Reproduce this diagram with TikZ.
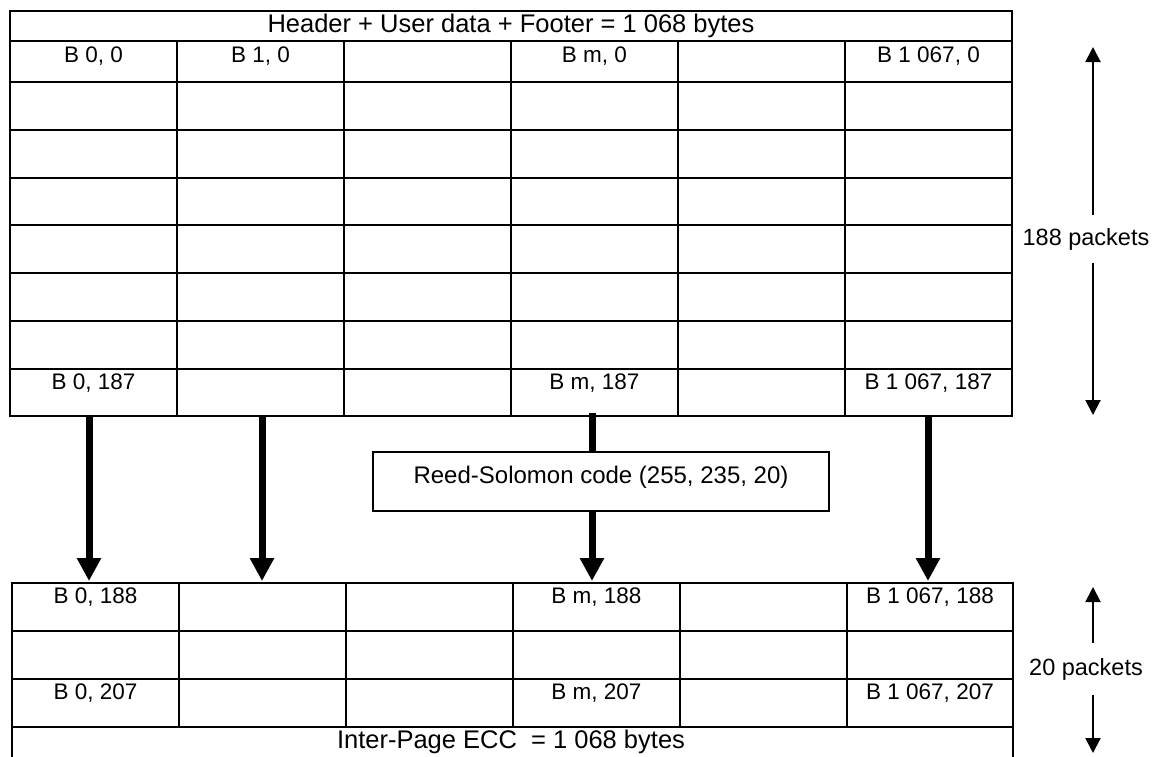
\documentclass[tikz,border=0pt]{standalone}
\usepackage{fontspec}
\setmainfont{Liberation Sans}
\usetikzlibrary{arrows.meta,positioning}

\begin{document}
\begin{tikzpicture}[x=1pt, y=-1pt,
  grid/.style={line width=2pt},
  lbl/.style={anchor=base, inner sep=0pt, font=\fontsize{22.5}{27}\selectfont},
  title/.style={anchor=base, inner sep=0pt, font=\fontsize{25.5}{30}\selectfont},
  side/.style={anchor=base, inner xsep=0pt, font=\fontsize{23.5}{28}\selectfont},
  rsbox/.style={draw, fill=white, line width=1.6pt, minimum width=456pt, minimum height=59pt,
    inner sep=0pt, text height=8pt, text depth=5pt, font=\fontsize{24}{29}\selectfont},
  bigarrow/.style={line width=7pt, -{Triangle[width=23pt, length=23pt]}},
  dimarrow/.style={line width=2pt, -{Triangle[width=15pt, length=15pt]}}]
  \useasboundingbox (0,0) rectangle (1167,756);
  % data block: 188 packets
  \draw[grid] (10,11) rectangle (1012,416.25);
  \draw[grid] (10,41) -- (1012,41);
  \foreach \y in {82,129.75,177.5,225.25,273,320.75,368.5}
    \draw[grid] (10,\y) -- (1012,\y);
  \foreach \x in {177,344,511,678,845}
    \draw[grid] (\x,41) -- (\x,416.25);
  \node[title] (hdr) at (511,32) {Header + User data + Footer = 1 068 bytes};
  \node[lbl] (b00) at (93.5,62) {B 0, 0};
  \node[lbl] (b10) at (260.5,62) {B 1, 0};
  \node[lbl] (bm0) at (594.5,62) {B m, 0};
  \node[lbl] (bl0) at (928.5,62) {B 1 067, 0};
  \node[lbl] (b0l) at (93.5,389) {B 0, 187};
  \node[lbl] (bml) at (594.5,389) {B m, 187};
  \node[lbl] (bll) at (928.5,389) {B 1 067, 187};
  % ECC block: 20 packets
  \draw[grid] (12,583) rectangle (1013,760);
  \foreach \y in {631,679,727}
    \draw[grid] (12,\y) -- (1013,\y);
  \foreach \x in {179,346,513,680,847}
    \draw[grid] (\x,583) -- (\x,727);
  \node[lbl] (e00) at (95.5,603.5) {B 0, 188};
  \node[lbl] (em0) at (596.5,603.5) {B m, 188};
  \node[lbl] (el0) at (930,603.5) {B 1 067, 188};
  \node[lbl] (e0l) at (95.5,699.5) {B 0, 207};
  \node[lbl] (eml) at (596.5,699.5) {B m, 207};
  \node[lbl] (ell) at (930,699.5) {B 1 067, 207};
  \node[title] (ftr) at (511,748) {Inter-Page ECC\ \ = 1 068 bytes};
  % column coding
  \node[rsbox] (rs) at (601,481.5) {Reed-Solomon code (255, 235, 20)};
  \foreach \x/\n in {89/a,262/b,928/d} {
    \coordinate (\n top) at (\x,417);
    \coordinate (\n bot) at (\x,581);
    \draw[bigarrow] (\n top) -- (\n bot);
  }
  \coordinate (ctop) at (592,413);
  \coordinate (cbot) at (592,581);
  \draw[line width=7pt] (ctop) -- (ctop |- rs.north);
  \draw[bigarrow] (ctop |- rs.south) -- (cbot);
  % packet counts
  \node[side, inner ysep=12.5pt] (n188) at (1086,245) {188 packets};
  \coordinate (up188) at (1093,47);
  \coordinate (dn188) at (1093,415);
  \draw[dimarrow] (n188.north -| up188) -- (up188);
  \draw[dimarrow] (n188.south -| dn188) -- (dn188);
  \node[side, inner ysep=15pt] (n20) at (1086,675) {20 packets};
  \coordinate (up20) at (1093,587);
  \coordinate (dn20) at (1093,753);
  \draw[dimarrow] (n20.north -| up20) -- (up20);
  \draw[dimarrow] (n20.south -| dn20) -- (dn20);
\end{tikzpicture}
\end{document}
